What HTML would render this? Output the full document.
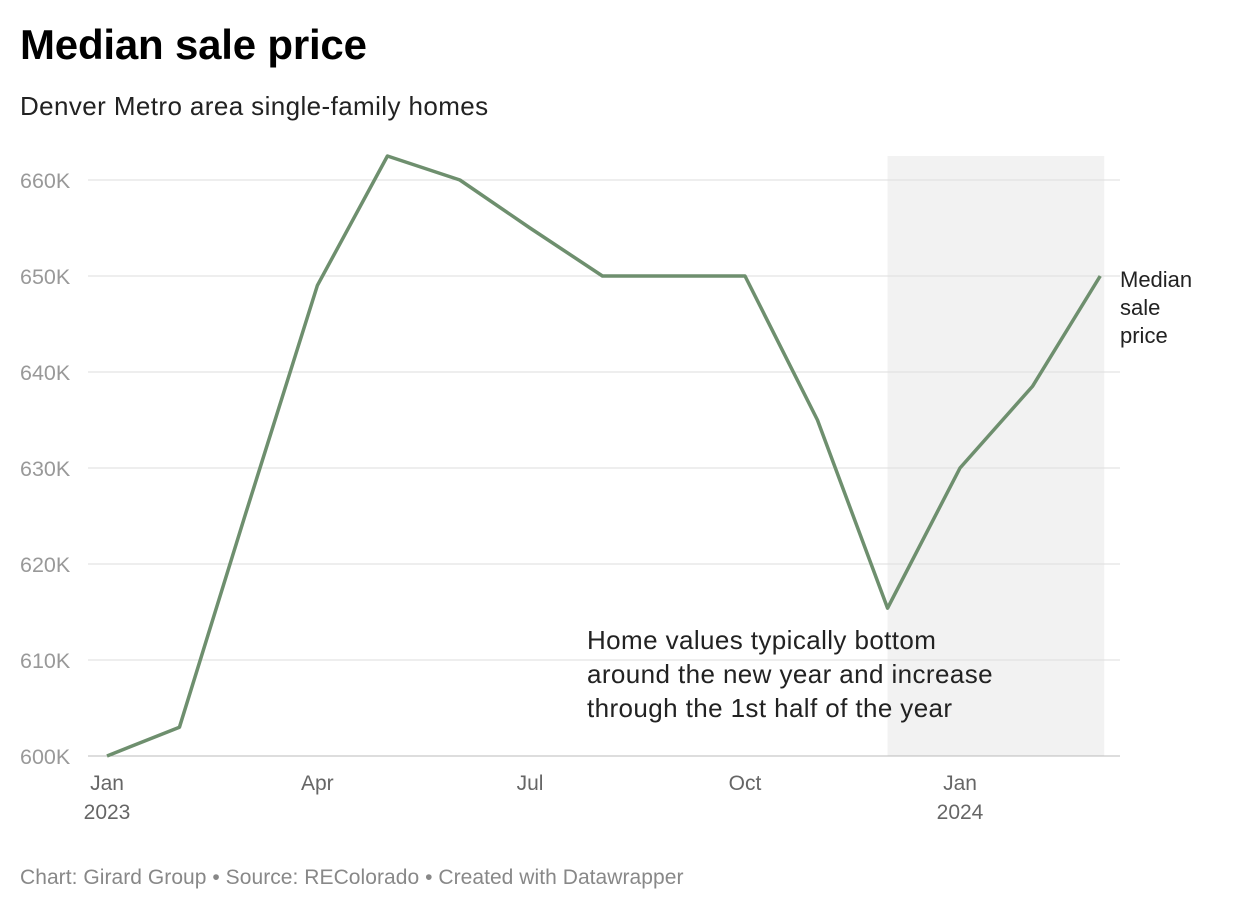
<!DOCTYPE html>
<html><head><meta charset="utf-8"><style>
body{margin:0;background:#fff;font-family:"Liberation Sans",sans-serif;}
#wrap{position:relative;width:1240px;height:912px;overflow:hidden;}
h1{position:absolute;left:20px;top:21px;margin:0;font-size:42px;font-weight:bold;color:#000;letter-spacing:-0.2px;}
.sub{position:absolute;left:20px;top:91px;font-size:26px;color:#222;letter-spacing:0.4px;}
.foot{position:absolute;left:20px;top:866px;font-size:21px;color:#888;letter-spacing:0.05px;}
svg{position:absolute;left:0;top:0;}
</style></head><body>
<div id="wrap">
<h1>Median sale price</h1>
<div class="sub">Denver Metro area single-family homes</div>
<svg id="chart" width="1240" height="912"></svg>
<div class="foot">Chart: Girard Group • Source: REColorado • Created with Datawrapper</div>
</div>
<script>
const dayOffsets = [0,31,59,90,120,151,181,212,243,273,304,334,365,396,425];
const prices = [600,603,625,649,662.5,660,655,650,650,650,635,615.4,630,638.5,650];
const yTicks = [600,610,620,630,640,650,660];
const xTickDays = [0,90,181,273,365];
const xTickLabels = ["Jan","Apr","Jul","Oct","Jan"];
const xTickYears = ["2023","","","","2024"];
const shadeStartDay = 334, shadeEndDay = 425;

const NS="http://www.w3.org/2000/svg";
const svg=document.getElementById('chart');
const x=d=>107+d*(853/365);
const y=v=>756-(v-600)*9.6;
function mk(t,a){const e=document.createElementNS(NS,t);for(const k in a)e.setAttribute(k,a[k]);svg.appendChild(e);return e;}

const sh=mk('rect',{x:x(shadeStartDay),y:y(662.5),width:x(shadeEndDay)-x(shadeStartDay)+4,height:y(600)-y(662.5),fill:'#f2f2f2'});



yTicks.forEach(v=>{
  const l=mk('line',{x1:88,x2:1120,y1:y(v),y2:y(v),stroke:v===600?'#bbb':'#ddd','stroke-width':1});
  
  
  const t=mk('text',{x:20,y:y(v)+8,'font-size':21.5,fill:'#999'});
  t.textContent=v+'K';
  
  
});
xTickDays.forEach((d,i)=>{
  const t=mk('text',{x:x(d),y:790,'font-size':21,fill:'#666','text-anchor':'middle'});
  t.textContent=xTickLabels[i];
  
  
  if(xTickYears[i]){
    const t2=mk('text',{x:x(d),y:819,'font-size':21,fill:'#666','text-anchor':'middle'});
    t2.textContent=xTickYears[i];
    
    
  }
});
const p=mk('polyline',{points:dayOffsets.map((d,i)=>x(d)+','+y(prices[i])).join(' '),fill:'none',stroke:'#6e8f6e','stroke-width':3.5,'stroke-linejoin':'round'});



const lastY=y(prices[prices.length-1]);
["Median","sale","price"].forEach((s,i)=>{
  const t=mk('text',{x:1120,y:lastY+11+i*28,'font-size':22,fill:'#222'});
  t.textContent=s;
  
  
});
["Home values typically bottom","around the new year and increase","through the 1st half of the year"].forEach((s,i)=>{
  const t=mk('text',{x:587,y:649+i*34,'font-size':26,fill:'#222','letter-spacing':'0.4'});
  t.textContent=s;
  
  
});
</script>
</body></html>
